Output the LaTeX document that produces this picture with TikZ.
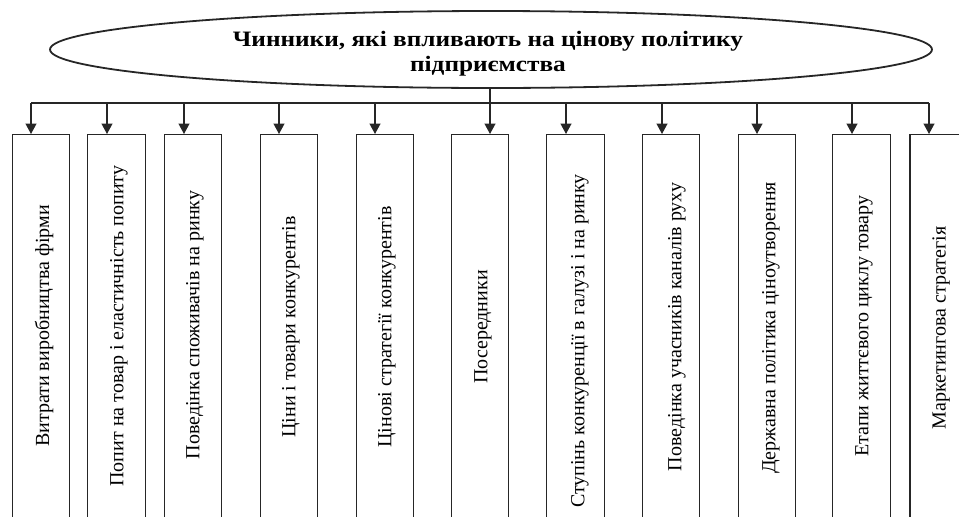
\documentclass[tikz,border=0pt]{standalone}
\usepackage{fontspec}
\setmainfont{Liberation Serif}
\newfontfamily\titlefont[FakeStretch=1.15]{Liberation Serif}
\usetikzlibrary{arrows.meta}
\begin{document}
\begin{tikzpicture}[x=1pt,y=-1pt,
  linec/.style={draw=black!85},
  oval/.style={linec, line width=1.8pt},
  fbox/.style={linec, line width=1.4pt, rectangle, minimum width=57.5pt, minimum height=420pt, anchor=north, inner sep=0pt},
  vtext/.style={rotate=90, font=\fontsize{20}{22}\selectfont, inner sep=0pt, anchor=center},
  arr/.style={linec, line width=1.3pt, -{Triangle[length=10.5pt,width=11pt]}},
  bus/.style={linec, line width=1.3pt}]
\useasboundingbox (0,0) rectangle (959,517);
\clip (0,0) rectangle (959,517);
% title ellipse
\draw[oval] (491,49.5) ellipse [x radius=441, y radius=38.5];
\node[font=\titlefont\bfseries\fontsize{22}{25}\selectfont, align=center, inner sep=0pt] (title) at (488,54)
  {Чинники, які впливають на цінову політику\\підприємства};
\coordinate (top) at (491,88);
% boxes
\foreach \n/\cx in {1/41,2/116.5,3/193,4/289,5/385,6/480,7/575.5,8/671,9/767,10/861.5,11/938.75}{
  \node[fbox] (b\n) at (\cx,134) {};
}
% texts
\node[vtext] (t1) at (44,326) {Витрати виробництва фірми};
\node[vtext] (t2) at (119,326) {Попит на товар і еластичність попиту};
\node[vtext] (t3) at (195,325) {Поведінка споживачів на ринку};
\node[vtext] (t4) at (291,327) {Ціни і товари конкурентів};
\node[vtext] (t5) at (387,327) {Цінові стратегії конкурентів};
\node[vtext] (t6) at (483,327) {Посередники};
\node[vtext] (t7) at (580,341) {Ступінь конкуренції в галузі і на ринку};
\node[vtext] (t8) at (677,327) {Поведінка учасників каналів руху};
\node[vtext] (t9) at (771,328) {Державна політика ціноутворення};
\node[vtext] (t10) at (864,326) {Етапи життєвого циклу товару};
\node[vtext] (t11) at (941,328) {Маркетингова стратегія};
% bus
\foreach \n/\ax in {1/31,2/107,3/184,4/279,5/375,6/490,7/566,8/662,9/757,10/852,11/929}{
  \coordinate (a\n) at (\ax,103);
}
\draw[bus] (a1) -- (a11);
\draw[arr] (top -| a6) -- (a6 |- b6.north);
\foreach \n in {1,2,3,4,5,7,8,9,10,11}{
  \draw[arr] (a\n) -- (a\n |- b\n.north);
}
\end{tikzpicture}
\end{document}
